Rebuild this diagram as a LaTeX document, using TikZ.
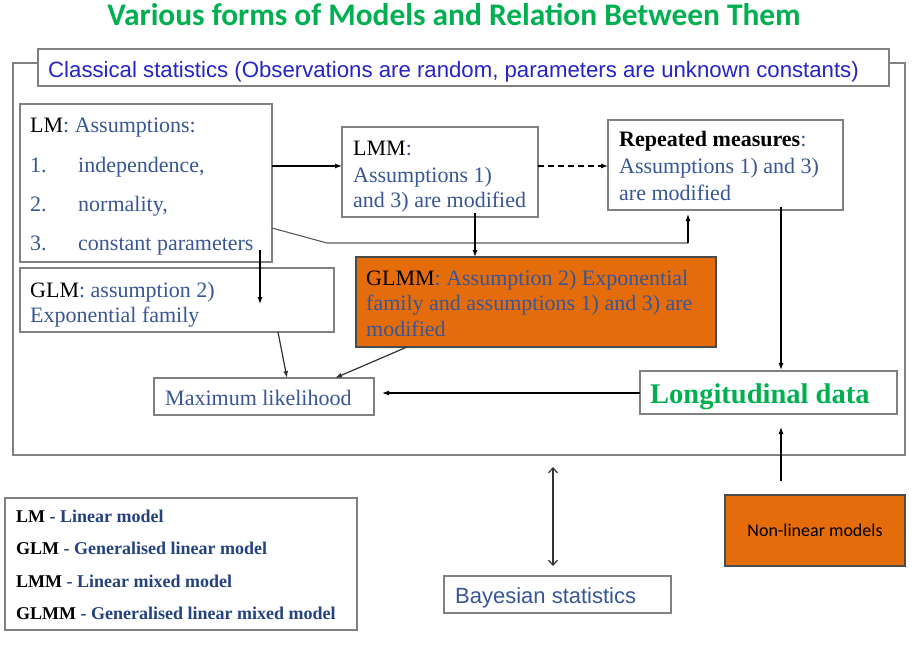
\documentclass[tikz,border=0pt]{standalone}
\usepackage{fontspec}
\setmainfont{Liberation Serif}
\newfontfamily\arialf{Liberation Sans}
\newfontfamily\calib{Carlito}
\usetikzlibrary{arrows.meta,calc}
\definecolor{ttl}{RGB}{0,176,80}
\definecolor{tb}{RGB}{56,86,150}
\definecolor{cb}{RGB}{36,36,200}
\definecolor{lg}{RGB}{36,66,128}
\definecolor{boxgray}{RGB}{128,128,128}
\definecolor{org}{RGB}{228,108,10}
\begin{document}
\begin{tikzpicture}[x=1pt,y=-1pt,
  box/.style={draw=boxgray,line width=1.3pt,inner sep=0pt,outer sep=0pt,anchor=north west},
  obox/.style={box,fill=org,draw=black!70},
  txt/.style={anchor=base west,inner sep=0pt,text=tb,font=\fontsize{22}{26}\selectfont},
  legt/.style={txt,text=lg,font=\bfseries\fontsize{18}{22}\selectfont},
  arr/.style={line width=1.2pt,-{Latex[length=7pt,width=5pt]}},
  conn/.style={line width=1.1pt,draw=black!65}]
\useasboundingbox (0,0) rectangle (924,646);
% title
\node[inner sep=0pt,text=ttl,font=\calib\bfseries\fontsize{31.4}{36}\selectfont] (title) at (454,15) {Various forms of Models and Relation Between Them};
% outer box
\node[box,minimum width=892,minimum height=392] (outer) at (13,63) {};
\node[box,fill=white,minimum width=851,minimum height=37] (cls) at (38,49) {};
\node[anchor=base west,inner sep=0pt,text=cb,font=\arialf\fontsize{22.2}{26}\selectfont] (clst) at (48,77) {Classical statistics (Observations are random, parameters are unknown constants)};
% LM
\node[box,minimum width=252,minimum height=158] (lm) at (20,104) {};
\node[txt] (lm1) at (30,132) {{\color{black}LM}: Assumptions:};
\node[txt] (lm2n) at (30,172) {1.};
\node[txt] (lm2) at (78,172) {independence,};
\node[txt] (lm3n) at (30,211) {2.};
\node[txt] (lm3) at (78,211) {normality,};
\node[txt] (lm4n) at (30,250) {3.};
\node[txt] (lm4) at (78,250) {constant parameters};
% GLM
\node[box,minimum width=314,minimum height=64] (glm) at (20,268) {};
\node[txt] (glm1) at (30,297) {{\color{black}GLM}: assumption 2)};
\node[txt] (glm2) at (30,322) {Exponential family};
% LMM
\node[box,minimum width=196,minimum height=90] (lmm) at (342,127) {};
\node[txt] (lmm1) at (353,155) {{\color{black}LMM}:};
\node[txt] (lmm2) at (353,182) {Assumptions 1)};
\node[txt] (lmm3) at (353,207) {and 3) are modified};
% Repeated
\node[box,minimum width=235,minimum height=90] (rep) at (608,120) {};
\node[txt] (rep1) at (619,146) {{\color{black}\bfseries Repeated measures}:};
\node[txt] (rep2) at (619,173) {Assumptions 1) and 3)};
\node[txt] (rep3) at (619,200) {are modified};
% GLMM
\node[obox,minimum width=360,minimum height=90] (glmm) at (356,257) {};
\node[txt] (glmm1) at (366,285) {{\color{black}GLMM}: Assumption 2) Exponential};
\node[txt] (glmm2) at (366,310) {family and assumptions 1) and 3) are};
\node[txt] (glmm3) at (366,336) {modified};
% Maximum likelihood
\node[box,minimum width=220,minimum height=37] (ml) at (154,378) {};
\node[txt] (mlt) at (165,405) {Maximum likelihood};
% Longitudinal
\node[box,minimum width=257,minimum height=43] (long) at (640,371) {};
\node[txt,text=ttl,font=\bfseries\fontsize{28.5}{32}\selectfont] (longt) at (650,403) {Longitudinal data};
% Non-linear
\node[obox,minimum width=180,minimum height=71] (nl) at (725,495) {};
\node[inner sep=0pt,font=\calib\fontsize{18}{22}\selectfont] (nlt) at (nl.center) {Non-linear models};
% Bayesian
\node[box,minimum width=227,minimum height=37] (bay) at (444,576) {};
\node[txt,font=\arialf\fontsize{22}{26}\selectfont] (bayt) at (455,603) {Bayesian statistics};
% Legend
\node[box,minimum width=352,minimum height=132] (leg) at (5,498) {};
\node[legt] (leg1) at (16,522) {{\color{black}LM} - Linear model};
\node[legt] (leg2) at (16,554) {{\color{black}GLM} - Generalised linear model};
\node[legt] (leg3) at (16,587) {{\color{black}LMM} - Linear mixed model};
\node[legt] (leg4) at (16,619) {{\color{black}GLMM} - Generalised linear mixed model};
% connectors
\draw[arr] (lm.east |- 0,166) -- (lmm.west |- 0,166);
\draw[arr,dash pattern=on 6pt off 4pt] (lmm.east |- 0,166) -- (rep.west |- 0,166);
\draw[conn] (lm.east |- 0,228) -- (327,243) -- (688,243);
\draw[arr] (688,243) -- (688,214);
\draw[arr] (260,250) -- (260,304);
\draw[arr] (475,213) -- (glmm.north -| 475,0);
\draw[arr,draw=black!80] (278,332) -- (287,378);
\draw[arr,draw=black!80] (407,347) -- (335,378);
\draw[arr] (long.west |- 0,393) -- (382,393);
\draw[arr] (781,207) -- (781,370);
\draw[arr] (781,481) -- (781,427);
\draw[line width=1.2pt,draw=black!80,{Straight Barb[length=5pt,width=9pt]}-{Straight Barb[length=5pt,width=9pt]}] (553,467) -- (553,566);
\end{tikzpicture}
\end{document}
